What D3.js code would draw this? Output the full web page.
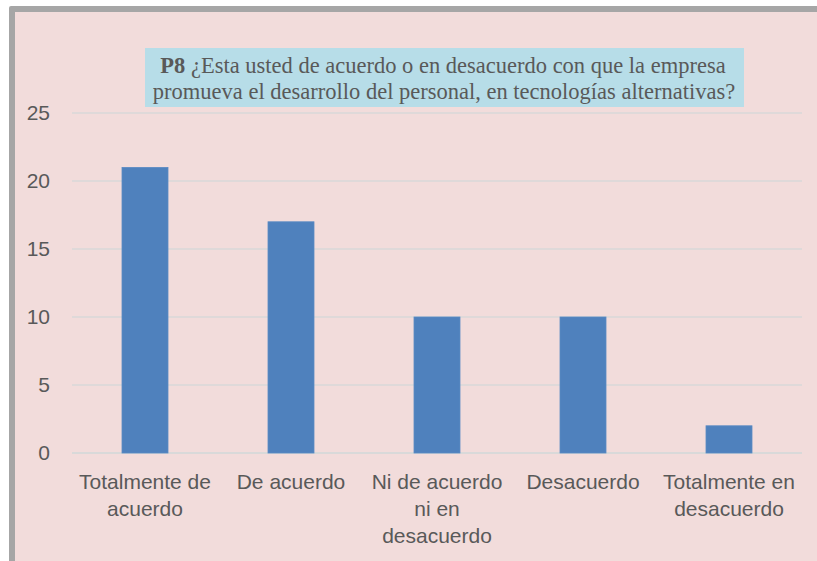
<!DOCTYPE html>
<html>
<head>
<meta charset="utf-8">
<script src="https://cdn.jsdelivr.net/npm/d3@7"></script>
<style>
  body { margin: 0; background: #ffffff; }
  svg { display: block; }
</style>
</head>
<body>
<div id="chart"></div>
<script>
// datos del gráfico
const categories = ["Totalmente de acuerdo", "De acuerdo", "Ni de acuerdo ni en desacuerdo", "Desacuerdo", "Totalmente en desacuerdo"];
const values = [21, 17, 10, 10, 2];
const yTicks = [0, 5, 10, 15, 20, 25];
const titleBold = "P8";
const titleLines = ["¿Esta usted de acuerdo o en desacuerdo con que la empresa", "promueva el desarrollo del personal, en tecnologías alternativas?"];

const width = 817, height = 561;
const margin = { top: 113, right: 15, bottom: 108, left: 72 };

const svg = d3.select("#chart").append("svg")
  .attr("width", width)
  .attr("height", height);

// marco gris y fondo rosa
svg.append("rect")
  .attr("x", 9).attr("y", 6)
  .attr("width", width).attr("height", height)
  .attr("rx", 2)
  .attr("fill", "#a6a6a6");
svg.append("rect")
  .attr("x", 15).attr("y", 12)
  .attr("width", width).attr("height", height)
  .attr("fill", "#f2dcdb");

const x = d3.scaleBand()
  .domain(categories)
  .range([margin.left, width - margin.right])
  .paddingInner(0.685)
  .paddingOuter(0.3425);

const y = d3.scaleLinear()
  .domain([0, 25])
  .range([height - margin.bottom, margin.top]);

// líneas de cuadrícula
svg.append("g")
  .selectAll("line")
  .data(yTicks)
  .enter().append("line")
  .attr("x1", margin.left)
  .attr("x2", width - margin.right)
  .attr("y1", d => y(d))
  .attr("y2", d => y(d))
  .attr("stroke", "#d9d9d9")
  .attr("stroke-width", d => d === 0 ? 2 : 1.5);

// etiquetas eje Y
const yAxis = svg.append("g")
  .attr("transform", `translate(${margin.left - 22},0)`)
  .call(d3.axisLeft(y).tickValues(yTicks).tickSize(0).tickPadding(0));
yAxis.select(".domain").remove();
yAxis.selectAll("text")
  .attr("font-family", "Liberation Sans, Arial, sans-serif")
  .attr("font-size", 21)
  .attr("fill", "#595959");

// barras
svg.append("g")
  .selectAll("rect")
  .data(values)
  .enter().append("rect")
  .attr("x", (d, i) => x(categories[i]))
  .attr("y", d => y(d))
  .attr("width", x.bandwidth())
  .attr("height", d => y(0) - y(d))
  .attr("fill", "#4f81bd")
  .attr("stroke", "#5a8ac4")
  .attr("stroke-width", 0.8);

// etiquetas eje X con ajuste de líneas
const xLabels = svg.append("g")
  .attr("font-family", "Liberation Sans, Arial, sans-serif")
  .attr("font-size", 21)
  .attr("fill", "#595959")
  .attr("text-anchor", "middle");

categories.forEach(function (cat) {
  const cx = x(cat) + x.bandwidth() / 2;
  const text = xLabels.append("text").attr("x", cx).attr("y", 489);
  const words = cat.split(" ");
  let line = [];
  let lineNo = 0;
  let tspan = text.append("tspan").attr("x", cx).attr("y", 489);
  words.forEach(function (w) {
    line.push(w);
    tspan.text(line.join(" "));
    if (tspan.node().getComputedTextLength() > 142 && line.length > 1) {
      line.pop();
      tspan.text(line.join(" "));
      line = [w];
      lineNo++;
      tspan = text.append("tspan").attr("x", cx).attr("y", 489 + lineNo * 27).text(w);
    }
  });
});

// título en caja azul
svg.append("rect")
  .attr("x", 145).attr("y", 48)
  .attr("width", 599).attr("height", 59)
  .attr("fill", "#b7dde8");

const title = svg.append("text")
  .attr("font-family", "Liberation Serif, Times New Roman, serif")
  .attr("font-size", 22.5)
  .attr("fill", "#595959")
  .attr("text-anchor", "middle");

const t1 = title.append("tspan").attr("x", 443).attr("y", 73);
t1.append("tspan").attr("font-weight", "bold").text(titleBold + " ");
t1.append("tspan").text(titleLines[0]);
title.append("tspan").attr("x", 444).attr("y", 98.5).text(titleLines[1]);
</script>
</body>
</html>
